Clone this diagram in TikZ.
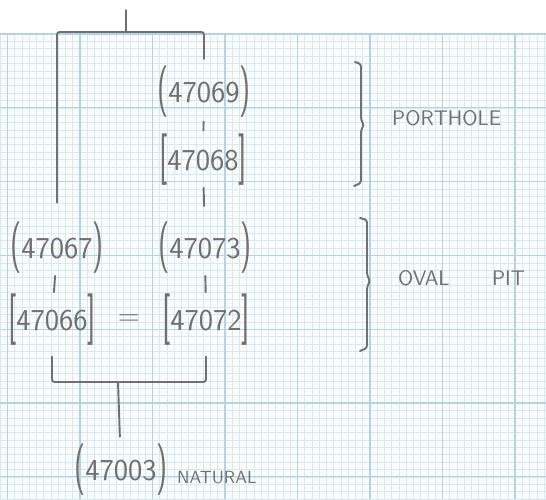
\documentclass[tikz,border=0pt]{standalone}
\usepackage{graphicx}
\definecolor{Pencil}{RGB}{112,112,112}
\definecolor{GridMinor}{RGB}{216,233,241}
\definecolor{GridMajor}{RGB}{180,212,229}
\definecolor{Paper}{RGB}{250,251,251}
\usetikzlibrary{
    positioning,
    calc,
}
\newcommand{\tallglyph}[1]{\raisebox{-0.09em}{\scalebox{1}[1.7]{#1}}}
\newcommand{\cutctx}[1]{\tallglyph{(}#1\tallglyph{)}}
\newcommand{\fillctx}[1]{\tallglyph{[}#1\tallglyph{]}}
\tikzset{
    pencil/.style={draw=Pencil, line width=1.1pt, line cap=round, rounded corners=1.5pt},
    ctx/.style={text=Pencil, font=\sffamily\LARGE, inner sep=1pt},
    note/.style={text=Pencil, font=\sffamily\large, anchor=west},
}

\begin{document}
\begin{tikzpicture}[x=0.02cm, y=-0.02cm]
    \useasboundingbox (0,0) rectangle (546,499);
    % graph paper
    \fill[white] (0,0) rectangle (546,499);
    \fill[Paper] (0,34) rectangle (546,499);
    \foreach \k in {-1,...,74} {
        \draw[GridMinor, line width=0.3pt] ({7.5+7.25*\k},34) -- ({7.5+7.25*\k},499);
    }
    \foreach \k in {0,...,63} {
        \draw[GridMinor, line width=0.3pt] (0,{34+7.38*\k}) -- (546,{34+7.38*\k});
    }
    \foreach \m in {0,...,7} {
        \draw[GridMajor, line width=0.6pt] ({7.5+72.5*\m},34) -- ({7.5+72.5*\m},499);
    }
    \foreach \m in {0,...,6} {
        \draw[GridMajor, line width=0.6pt] (0,{34+73.8*\m}) -- (546,{34+73.8*\m});
    }

    % contexts
    \node[ctx] (n47069) at (204,92) {\cutctx{47069}};
    \node[ctx] (n47068) at (203,160) {\fillctx{47068}};
    \node[ctx] (n47067) at (57,248) {\cutctx{47067}};
    \node[ctx] (n47073) at (205,248) {\cutctx{47073}};
    \node[ctx] (n47066) at (52,320) {\fillctx{47066}};
    \node[ctx] (n47072) at (206,320) {\fillctx{47072}};
    \node[ctx] (eq) at ($(n47066)!0.5!(n47072)$) {=};
    \node[ctx] (n47003) at (121,470) {\cutctx{47003}};

    \coordinate (top) at (126,10);
    \coordinate (topbar) at (126,32);
    \coordinate (botbar) at (118,382);

    % links
    \draw[pencil] (topbar) -- (top);
    \draw[pencil, shorten <=10pt, shorten >=3pt] (n47067.north) |- (topbar) -| (n47069.north);
    \draw[pencil, shorten <=1pt, shorten >=1pt] (n47069) -- (n47068);
    \draw[pencil, shorten >=8pt] (n47068) -- (n47073);
    \draw[pencil] (n47067) -- (n47066);
    \draw[pencil] (n47073) -- (n47072);
    \draw[pencil, shorten <=5pt, shorten >=5pt] (n47066.south) |- (botbar) -| (n47072.south);
    \draw[pencil, shorten >=3pt] (botbar) -- (n47003);

    % groups
    \draw[pencil] (355,62) -- (361,64) -- (361,120) -- (364,125) -- (361,130) -- (361,183) -- (354,186);
    \draw[pencil] (360,218) -- (367,220) -- (367,275) -- (370,281) -- (367,287) -- (367,348) -- (360,351);
    \node[note] (porthole) at (386,118) {PORTHOLE};
    \node[note] (ovalpit) at (392,278) {OVAL\hspace{0.85cm}PIT};
    \node[note, font=\sffamily] (natural) at (171,478) {NATURAL};
\end{tikzpicture}
\end{document}
